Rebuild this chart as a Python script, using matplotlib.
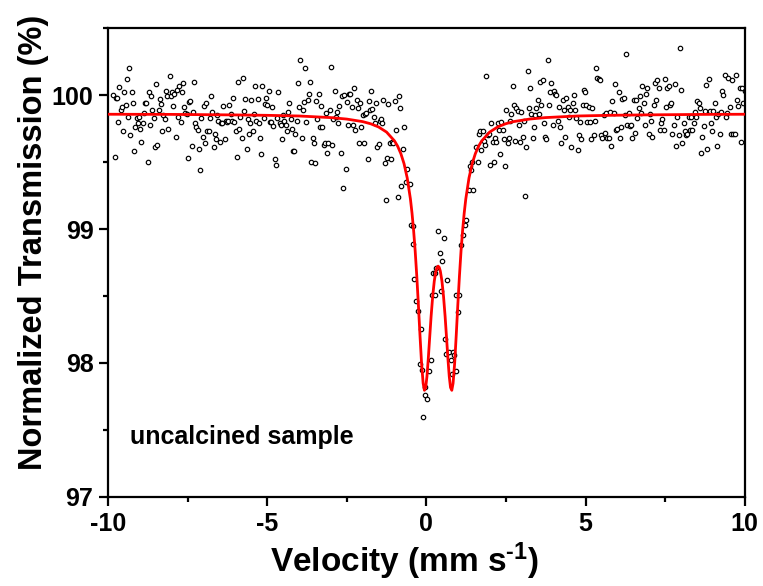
import numpy as np
import matplotlib
matplotlib.use('Agg')
import matplotlib.pyplot as plt
from matplotlib.ticker import MultipleLocator

plt.rcParams['font.family'] = ['Liberation Sans', 'DejaVu Sans']
plt.rcParams['font.weight'] = 'bold'
plt.rcParams['axes.unicode_minus'] = False
plt.rcParams['mathtext.fontset'] = 'custom'
plt.rcParams['mathtext.rm'] = 'Liberation Sans:bold'
plt.rcParams['mathtext.bf'] = 'Liberation Sans:bold'
plt.rcParams['mathtext.default'] = 'bf'

# measured transmission, left baseline (-9.83 .. -1.04 mm/s, even channels)
left_trans = [
    100.0, 99.54, 99.975, 99.98, 99.80, 100.06, 99.89, 99.91, 99.73, 100.02, 99.925, 100.12,
    99.84, 100.20, 99.70, 100.02, 99.94, 99.58, 99.76, 99.83, 99.79, 99.84, 99.75, 99.65,
    99.79, 99.87, 99.94, 99.94, 99.50, 100.02, 99.78, 99.99, 99.89, 99.83, 99.61, 100.08,
    99.63, 99.89, 99.97, 99.93, 99.73, 99.85, 99.82, 100.03, 99.99, 99.75, 100.14, 99.99,
    100.02, 99.92, 100.01, 99.69, 100.04, 99.84, 100.07, 99.80, 100.02, 100.09, 99.91, 99.87,
    99.86, 99.53, 99.95,
    99.955, 99.62, 99.875, 100.10, 99.79, 99.76, 99.74, 99.60, 99.44, 99.83, 99.69, 99.92,
    99.64, 99.94, 99.73, 99.73, 99.83, 99.99, 99.875, 99.61, 99.71, 99.67, 99.85, 99.81,
    99.65, 99.79, 99.79, 99.92, 99.67, 99.81, 99.80, 99.81, 99.925, 99.86, 99.81, 99.98,
    99.80, 99.73, 99.535, 100.095, 99.75, 99.84, 99.68, 100.13, 99.88, 99.97, 99.60, 99.82,
    99.71, 99.79, 99.96, 99.73, 99.86, 100.07, 99.81, 99.97, 99.79, 99.68, 99.56, 100.07,
    99.83, 99.93, 99.98, 99.925, 100.03, 99.80,
    99.80, 99.91, 99.77, 99.52, 99.48, 99.83, 100.02, 99.79, 99.78, 99.67, 99.85, 99.81,
    99.78, 99.73, 99.875, 99.94, 99.82, 99.75, 99.58, 99.58, 99.71, 99.81, 100.09, 99.91,
    100.26, 99.68, 99.89, 99.95, 100.20, 99.80, 99.96, 100.01, 100.10, 99.50, 99.68, 99.64,
    99.49, 99.955, 99.82, 100.01, 99.76, 99.92, 99.76, 99.63, 99.64, 99.87, 99.565, 99.64,
    99.89, 100.21, 99.63, 99.82, 100.03, 99.84, 99.875, 99.79, 99.92, 99.565, 99.99, 99.31,
    100.0, 99.45, 99.95, 99.78, 100.01,
    100.01, 99.91, 99.78, 100.05, 99.74, 99.96, 99.905, 99.64, 99.94, 99.76, 99.85, 99.64,
    99.86, 99.865, 99.52, 99.955, 99.89, 100.03, 99.895, 99.84, 99.79, 99.94, 99.61, 99.635,
    99.81, 99.82, 99.79, 99.96, 99.495, 99.22, 99.53, 99.93, 99.64, 99.52, 99.65, 99.64,
]

# measured points across the doublet
dip_vel = [
    -0.989, -0.947, -0.905, -0.864, -0.832, -0.790, -0.748, -0.707, -0.654, -0.612,
    -0.518, -0.487, -0.434, -0.403, -0.382, -0.340, -0.277, -0.204, -0.173, -0.131,
    -0.089, -0.047, -0.026, 0.026, 0.079, 0.141, 0.183, 0.215, 0.267, 0.288,
    0.319, 0.372, 0.424, 0.455, 0.508, 0.560, 0.581, 0.633, 0.654, 0.717,
    0.769, 0.822, 0.843, 0.874, 0.926, 0.947, 1.000, 1.031, 1.104, 1.157,
    1.209, 1.261, 1.334, 1.387, 1.418, 1.450, 1.471,
]
dip_trans = [
    99.955, 99.74, 99.24, 99.99, 99.90, 99.32, 99.60, 99.76, 99.35, 99.45,
    99.34, 99.03, 98.89, 99.02, 98.63, 98.46, 98.39, 97.99, 98.25, 97.95,
    97.60, 97.82, 97.76, 97.73, 97.94, 98.02, 98.51, 98.67, 98.51, 98.67,
    98.71, 98.985, 98.82, 98.54, 98.76, 98.93, 98.18, 98.07, 98.62, 98.085,
    98.02, 97.92, 98.08, 98.06, 97.94, 98.51, 98.38, 98.51, 98.88, 98.955,
    99.03, 99.07, 99.295, 99.47, 99.44, 99.50, 99.29,
]

# measured transmission, right baseline (1.575 .. 10.0 mm/s, even channels)
right_trans = [
    99.61, 99.50, 99.71, 99.73, 99.59, 99.73, 99.66, 99.63, 100.14, 99.70, 99.71, 99.48,
    99.79, 99.65, 99.50, 99.68, 99.65, 99.79, 99.74, 99.56, 99.80, 99.74, 99.67, 99.47,
    99.89,
    99.64, 99.68, 99.81, 99.86, 100.07, 99.925, 99.66, 99.90, 99.88, 99.78, 99.65, 99.875,
    99.69, 99.81, 99.25, 99.61, 100.18, 99.90, 100.05, 99.86, 99.68, 99.76, 99.85, 99.90,
    99.96, 99.86, 100.10, 99.925, 100.11, 99.79, 99.69, 99.67, 100.26, 99.925, 100.02, 100.09,
    99.78, 100.03, 100.01, 100.0, 99.81, 99.91, 99.76, 99.64, 99.96, 99.89, 99.69, 99.98,
    99.91, 99.84, 99.89, 99.61, 99.94, 100.0, 99.89, 99.83, 99.59, 99.70, 99.80, 99.67,
    99.925, 100.04, 100.02, 99.925, 99.80,
    99.91, 99.80, 99.67, 99.90, 99.70, 99.81, 100.20, 100.13, 100.12, 100.11, 99.70, 99.68,
    99.85, 99.72, 99.87, 99.68, 99.68, 99.875, 99.62, 99.955, 99.87, 100.08, 99.74, 99.75,
    100.02, 99.68, 99.76, 99.97, 99.975, 99.85, 100.31, 99.78, 99.87, 99.77, 99.78, 99.68,
    99.96, 99.72, 99.96, 99.83, 99.905, 99.99, 99.87, 100.07, 99.94, 99.78, 100.01, 100.05,
    99.71, 99.86, 99.81, 99.69, 99.925, 100.09, 99.96, 100.11, 100.05, 99.74, 99.79, 99.82,
    99.74, 100.12, 99.91, 100.05, 100.07,
    99.925, 99.94, 99.71, 99.78, 100.08, 99.62, 99.84, 99.70, 100.35, 100.04, 99.64, 99.79,
    99.73, 99.70, 99.71, 99.84, 99.74, 99.84, 99.74, 99.79, 99.875, 99.84, 99.955, 99.94,
    99.90, 99.57, 99.69, 99.77, 99.88, 100.075, 99.60, 100.12, 99.88, 99.79, 99.73, 99.88,
    99.94, 99.84, 99.62, 99.86, 99.71, 99.875, 100.03, 100.0, 100.15, 99.84, 99.87, 100.13,
    99.91, 99.71, 100.11, 99.71, 99.71, 100.15, 99.96, 99.92, 100.05, 99.65, 100.05, 99.94,
    100.03,
]

# fitted doublet
fit_vel = [
    -10, -8, -6, -5, -4, -3, -2.5, -2, -1.75, -1.5, -1.25, -1.0, -0.9, -0.8, -0.7, -0.6,
    -0.5, -0.45, -0.4, -0.35, -0.3, -0.25, -0.2, -0.15, -0.1, -0.06, -0.02, 0.02, 0.06,
    0.1, 0.15, 0.2, 0.25, 0.3, 0.335, 0.37, 0.405, 0.44, 0.49, 0.54, 0.59, 0.64, 0.68,
    0.72, 0.76, 0.80, 0.84, 0.89, 0.94, 0.99, 1.04, 1.09, 1.14, 1.19, 1.24, 1.34, 1.44,
    1.54, 1.64, 1.74, 1.99, 2.24, 2.49, 2.74, 3.24, 3.74, 4.74, 5.74, 6.74, 8.74, 10,
]
fit_trans = [
    99.857, 99.856, 99.852, 99.849, 99.844, 99.832, 99.821, 99.802, 99.786, 99.762,
    99.724, 99.658, 99.618, 99.563, 99.488, 99.381, 99.225, 99.120, 98.991, 98.836,
    98.649, 98.437, 98.210, 97.999, 97.848, 97.796, 97.817, 97.900, 98.027, 98.171,
    98.348, 98.498, 98.612, 98.686, 98.714, 98.723, 98.714, 98.686, 98.612, 98.498,
    98.348, 98.171, 98.027, 97.900, 97.817, 97.796, 97.848, 97.999, 98.210, 98.437,
    98.649, 98.836, 98.991, 99.120, 99.225, 99.381, 99.488, 99.563, 99.618, 99.658,
    99.724, 99.762, 99.786, 99.802, 99.821, 99.832, 99.844, 99.849, 99.852, 99.856,
    99.857,
]

left_vel = np.linspace(-9.83, -1.04, len(left_trans))
right_vel = np.linspace(1.575, 10.0, len(right_trans))
vel = np.concatenate([left_vel, dip_vel, right_vel])
trans = np.concatenate([left_trans, dip_trans, right_trans])

fig = plt.figure(figsize=(7.63, 5.86), dpi=100)
ax = fig.add_axes([0.1415, 0.152, 0.8345, 0.800])

ax.plot(vel, trans, linestyle='none', marker='o', ms=3.2, mfc='white',
        mec='black', mew=0.85, zorder=2)
ax.plot(fit_vel, fit_trans, color='#ff0000', lw=2.0, zorder=3)

ax.text(-9.3, 97.45, 'uncalcined sample', fontsize=18, fontweight='bold',
        va='center', ha='left')

ax.set_xlim(-10, 10)
ax.set_ylim(97, 100.5)
ax.set_xticks([-10, -5, 0, 5, 10])
ax.set_yticks([97, 98, 99, 100])
ax.xaxis.set_minor_locator(MultipleLocator(2.5))
ax.yaxis.set_minor_locator(MultipleLocator(0.5))
ax.tick_params(which='major', direction='out', length=6.5, width=1.6,
               labelsize=18, top=False, right=False, pad=4)
ax.tick_params(which='minor', direction='out', length=3.5, width=1.6,
               top=False, right=False)
for lab in ax.get_xticklabels() + ax.get_yticklabels():
    lab.set_fontweight('bold')
for sp in ax.spines.values():
    sp.set_linewidth(1.6)

ax.set_xlabel(r'Velocity (mm s$^{\text{-1}}$)', fontsize=24, fontweight='bold')
ax.set_ylabel('Normalized Transmission (%)', fontsize=23.5, fontweight='bold')
ax.xaxis.set_label_coords(0.465, -0.092)
ax.yaxis.set_label_coords(-0.092, 0.544)

fig.savefig('out.png', dpi=100)
